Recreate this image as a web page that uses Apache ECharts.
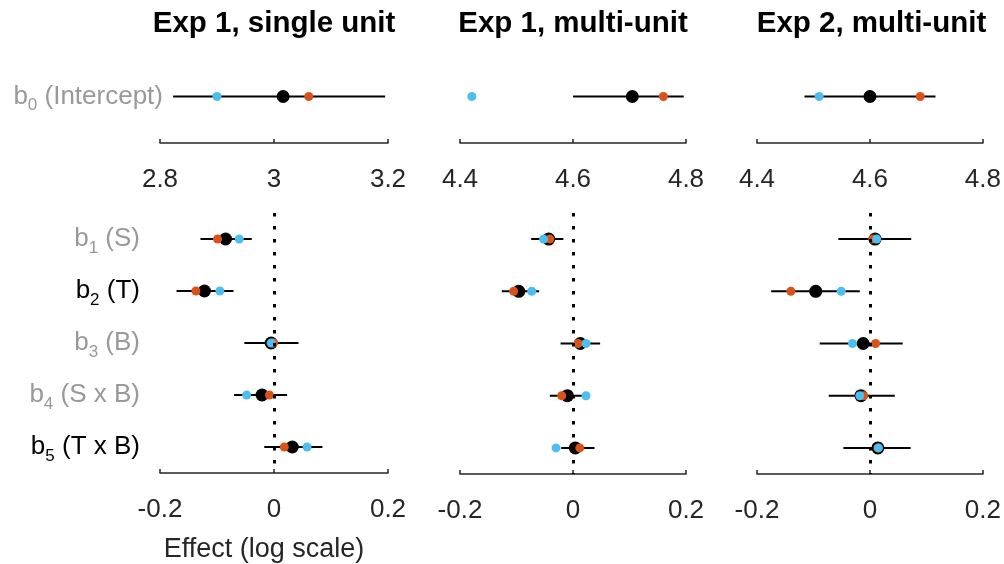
<!DOCTYPE html>
<html>
<head>
<meta charset="utf-8">
<script src="https://cdn.jsdelivr.net/npm/echarts@6/dist/echarts.min.js"></script>
<style>html,body{margin:0;padding:0;background:#fff}#c{width:1004px;height:564px}</style>
</head>
<body>
<div id="c"></div>
<script>
// ---- data ----
const panelTitles = ['Exp 1, single unit', 'Exp 1, multi-unit', 'Exp 2, multi-unit'];
const interceptTicks = [[2.8, 3.2], [4.4, 4.8], [4.4, 4.8]];
const effectTicks = [-0.2, 0.2];
const xAxisName = 'Effect (log scale)';
const interceptName = 'Intercept';
const paramNames = ['S', 'T', 'B', 'S x B', 'T x B'];
const paramHighlighted = [false, true, false, false, true];

// intercept per panel: [low, high] interval, black estimate, orange, blue
const interceptCI = [[2.823, 3.195], [4.600, 4.796], [4.484, 4.716]];
const interceptBlack = [3.016, 4.705, 4.600];
const interceptOrange = [3.061, 4.760, 4.689];
const interceptBlue = [2.900, 4.421, 4.510];

// effects b1..b5 per panel
const effectLow = [
  [-0.129, -0.171, -0.052, -0.070, -0.017],
  [-0.074, -0.126, -0.022, -0.041, -0.021],
  [-0.056, -0.175, -0.089, -0.073, -0.047]
];
const effectHigh = [
  [-0.039, -0.071, 0.043, 0.023, 0.085],
  [-0.017, -0.060, 0.048, 0.019, 0.038],
  [0.073, -0.018, 0.058, 0.044, 0.072]
];
const effectBlack = [
  [-0.085, -0.122, -0.005, -0.021, 0.032],
  [-0.043, -0.096, 0.013, -0.010, 0.004],
  [0.009, -0.096, -0.012, -0.016, 0.014]
];
const effectOrange = [
  [-0.099, -0.137, -0.001, -0.008, 0.018],
  [-0.041, -0.105, 0.009, -0.020, 0.012],
  [0.005, -0.140, 0.010, -0.011, 0.014]
];
const effectBlue = [
  [-0.061, -0.095, -0.005, -0.048, 0.058],
  [-0.052, -0.073, 0.023, 0.023, -0.030],
  [0.012, -0.051, -0.031, -0.018, 0.015]
];

// ---- styling / layout ----
const FONT = '"Liberation Sans", Arial, Helvetica, sans-serif';
const AX = '#262626';
const GRAY = '#999999';
const ORANGE = '#D95319';
const BLUE = '#4DBEEE';
const panelLeft = [160, 460, 757];
const panelWidth = [228, 226, 229];
const topGrid = {top: 50, height: 93};
const botGrid = {top: 213, height: 261};

const rich = {
  g: {fontSize: 26, color: GRAY, fontFamily: FONT},
  gs: {fontSize: 17, color: GRAY, fontFamily: FONT, padding: [18, 0, 0, 0]},
  k: {fontSize: 26, color: '#000', fontFamily: FONT},
  ks: {fontSize: 17, color: '#000', fontFamily: FONT, padding: [18, 0, 0, 0]}
};

const grids = [], xAxes = [], yAxes = [], series = [], graphics = [];

function errRender(params, api) {
  const p1 = api.coord([api.value('lo'), api.value('row')]);
  const p2 = api.coord([api.value('hi'), api.value('row')]);
  return {type: 'line', shape: {x1: p1[0], y1: p1[1], x2: p2[0], y2: p2[1]},
          style: {stroke: '#000', lineWidth: 2}};
}

function xAxisDef(gi, min, max, name) {
  const a = {
    type: 'value', gridIndex: gi, min: min, max: max, interval: 0.2,
    axisLine: {show: true, lineStyle: {color: AX, width: 1.5}},
    axisTick: {show: true, inside: true, length: 4, lineStyle: {color: AX, width: 1.5}},
    splitLine: {show: false},
    axisLabel: {color: AX, fontSize: 26, fontFamily: FONT, margin: 24,
                formatter: v => String(Math.round(v * 10) / 10)}
  };
  if (name) {
    a.name = name; a.nameLocation = 'middle'; a.nameGap = 63;
    a.nameTextStyle = {color: AX, fontSize: 27, fontFamily: FONT, padding: [0, 20, 0, 0]};
  }
  return a;
}

function addPoints(gi, data, color, size, z, extra) {
  const s = {type: 'scatter', xAxisIndex: gi, yAxisIndex: gi, data: data,
    symbol: 'circle', symbolSize: size, itemStyle: {color: color, opacity: 1},
    z: z, silent: true, animation: false};
  if (extra) Object.assign(s, extra);
  series.push(s);
}

for (let p = 0; p < 3; p++) {
  // top (intercept) grid
  const gt = grids.length;
  grids.push({left: panelLeft[p], width: panelWidth[p], top: topGrid.top, height: topGrid.height});
  xAxes.push(xAxisDef(gt, interceptTicks[p][0], interceptTicks[p][1]));
  yAxes.push({type: 'category', gridIndex: gt, data: [interceptName],
    axisLine: {show: false}, axisTick: {show: false}, splitLine: {show: false},
    axisLabel: {show: p === 0, margin: -3, rich: rich,
      formatter: v => '{g|b}{gs|0}{g| (' + v + ')}'}});
  series.push({type: 'custom', xAxisIndex: gt, yAxisIndex: gt, renderItem: errRender,
    dimensions: ['lo', 'hi', 'row'],
    encode: {x: ['lo', 'hi'], y: 'row'}, data: [[interceptCI[p][0], interceptCI[p][1], 0]], z: 1, animation: false});
  addPoints(gt, [[interceptBlack[p], 0]], '#000', 13, 2);
  addPoints(gt, [[interceptOrange[p], 0]], ORANGE, 9, 3);
  addPoints(gt, [[interceptBlue[p], 0]], BLUE, 9, 4);

  // bottom (effects) grid
  const gb = grids.length;
  grids.push({left: panelLeft[p], width: panelWidth[p], top: botGrid.top, height: botGrid.height});
  xAxes.push(xAxisDef(gb, effectTicks[0], effectTicks[1], p === 0 ? xAxisName : null));
  yAxes.push({type: 'category', gridIndex: gb, inverse: true, data: paramNames,
    axisLine: {show: false}, axisTick: {show: false}, splitLine: {show: false},
    axisLabel: {show: p === 0, margin: 20, rich: rich,
      formatter: (v, i) => {
        const s = paramHighlighted[i] ? 'k' : 'g';
        return '{' + s + '|b}{' + s + 's|' + (i + 1) + '}{' + s + '| (' + v + ')}';
      }}});
  series.push({type: 'custom', xAxisIndex: gb, yAxisIndex: gb, renderItem: errRender,
    dimensions: ['lo', 'hi', 'row'],
    encode: {x: ['lo', 'hi'], y: 'row'},
    data: effectLow[p].map((lo, i) => [lo, effectHigh[p][i], i]), z: 1, animation: false});
  addPoints(gb, effectBlack[p].map((v, i) => [v, i]), '#000', 13, 2, {
    markLine: {silent: true, symbol: 'none', animation: false,
      label: {show: false},
      lineStyle: {color: '#000', type: [3.5, 9.5], width: 3},
      data: [{xAxis: 0}]}});
  addPoints(gb, effectOrange[p].map((v, i) => [v, i]), ORANGE, 9, 3);
  addPoints(gb, effectBlue[p].map((v, i) => [v, i]), BLUE, 9, 4);

  graphics.push({type: 'text', x: panelLeft[p] + panelWidth[p] / 2, y: 24,
    style: {text: panelTitles[p], fill: '#000', font: 'bold 29.5px ' + FONT,
            textAlign: 'center', textVerticalAlign: 'middle'}});
}

const chart = echarts.init(document.getElementById('c'), null, {renderer: 'canvas'});
chart.setOption({
  backgroundColor: '#fff',
  animation: false,
  textStyle: {fontFamily: FONT},
  grid: grids, xAxis: xAxes, yAxis: yAxes, series: series, graphic: graphics
});
</script>
</body>
</html>
